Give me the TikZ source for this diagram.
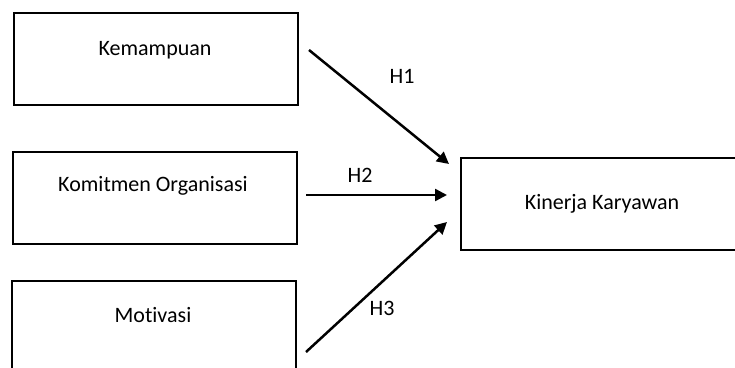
\documentclass[tikz,border=0pt]{standalone}
\usepackage{fontspec}
\setmainfont{Carlito}[Ligatures=NoCommon]
\usetikzlibrary{arrows.meta}
\begin{document}
\begin{tikzpicture}[x=1pt,y=-1pt,
  varbox/.style={draw=black,line width=2pt,minimum width=284pt,minimum height=92pt,inner sep=0pt,anchor=north west},
  lbl/.style={font=\fontsize{22}{26}\selectfont},
  conn/.style={line width=2.5pt,-{Triangle[length=12pt,width=12pt]}}]
\useasboundingbox (0,0) rectangle (735,367);
\clip (0,0) rectangle (735,367);
\node[varbox] (b1) at (13,12) {};
\node[varbox] (b2) at (12,151) {};
\node[varbox] (b3) at (11,280) {};
\node[varbox] (b4) at (460,157) {};
\node[lbl] (t1) at (155,50) {Kemampuan};
\node[lbl] (t2) at (153,186) {Komitmen Organisasi};
\node[lbl] (t3) at (153,315) {Motivasi};
\node[lbl] (t4) at (602,204) {Kinerja Karyawan};
\coordinate (s1) at (309,50);
\coordinate (e1) at (449,164);
\coordinate (s2) at (306,195);
\coordinate (e2) at (447,195);
\coordinate (s3) at (306,352);
\coordinate (e3) at (447,222);
\draw[conn] (s1) -- (e1);
\draw[conn] (s2) -- (e2);
\draw[conn] (s3) -- (e3);
\node[lbl] (h1) at (402,76) {H1};
\node[lbl] (h2) at (360,175) {H2};
\node[lbl] (h3) at (382,308) {H3};
\end{tikzpicture}
\end{document}
